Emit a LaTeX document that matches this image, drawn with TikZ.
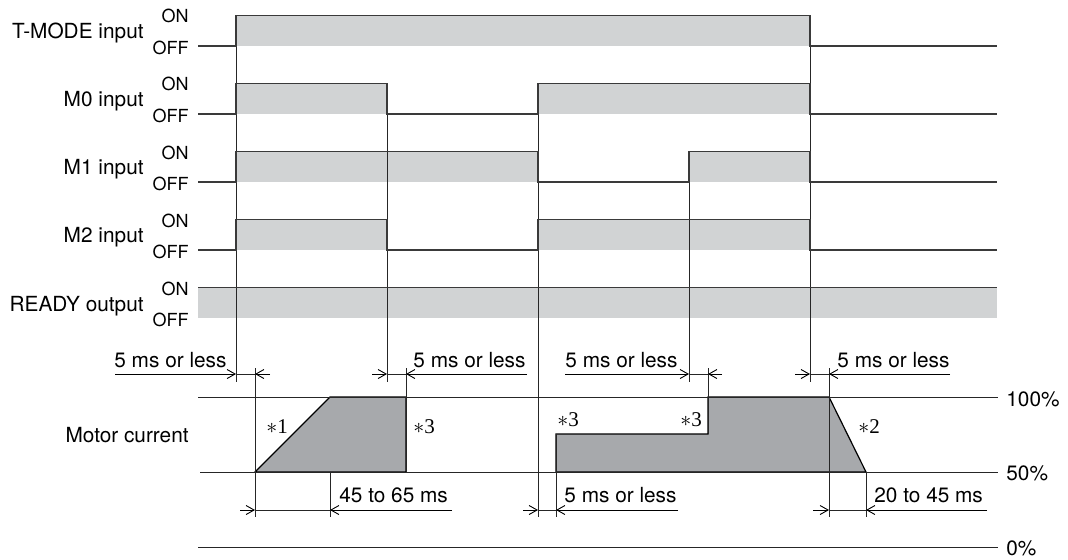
\documentclass[tikz,border=0pt]{standalone}
\usepackage{fontspec}
\setmainfont{TeX Gyre Heros}
\newfontfamily\starfont{Liberation Serif}
\usetikzlibrary{arrows.meta}
\definecolor{lightgrey}{HTML}{D1D3D4}
\definecolor{darkgrey}{HTML}{A7A9AC}
\definecolor{wave}{HTML}{3A3A3A}
\tikzset{
  sig/.style={line width=0.9pt, draw=wave},
  guide/.style={line width=0.45pt, draw=black!85},
  dimarrow/.style={line width=0.45pt, -{Straight Barb[length=4pt,width=4.5pt]}},
  lbl/.style={inner sep=0pt, font=\fontsize{10.4}{12}\selectfont},
  lvl/.style={inner sep=0pt, font=\fontsize{9}{10}\selectfont},
  star/.style={inner sep=0pt, font=\starfont\fontsize{10.5}{12}\selectfont},
}
\begin{document}
\begin{tikzpicture}[x=0.5pt,y=-0.5pt]
\useasboundingbox (0,0) rectangle (1068,559);

% grey ON bands
\fill[lightgrey] (236,15.5) rectangle (810,46);
\fill[lightgrey] (236,83.5) rectangle (387,114);
\fill[lightgrey] (538,83.5) rectangle (810,114);
\fill[lightgrey] (236,151.5) rectangle (538,182);
\fill[lightgrey] (689,151.5) rectangle (810,182);
\fill[lightgrey] (236,219.5) rectangle (387,250);
\fill[lightgrey] (538,219.5) rectangle (810,250);
\fill[lightgrey] (198,287.5) rectangle (997,318);

% motor current
\filldraw[fill=darkgrey, draw=black, line width=0.6pt] (255,472) -- (330,397) -- (406,397) -- (406,472) -- cycle;
\filldraw[fill=darkgrey, draw=black, line width=0.6pt] (556,472) -- (556,434) -- (708,434) -- (708,397) -- (829,397) -- (866,472) -- cycle;
\draw[guide] (198,397) -- (998,397);
\draw[guide] (200,472) -- (998,472);
\draw[guide] (198,547) -- (998,547);

% timing guides
\draw[guide] (236,15.5) -- (236,382);
\draw[guide] (387,83.5) -- (387,382);
\draw[guide] (538,83.5) -- (538,517);
\draw[guide] (689,151.5) -- (689,382);
\draw[guide] (810,15.5) -- (810,382);
\draw[guide] (255,368) -- (255,517);
\draw[guide] (406,368) -- (406,472);
\draw[guide] (708,368) -- (708,434);
\draw[guide] (829,368) -- (829,517);
\draw[guide] (330,472) -- (330,517);
\draw[guide] (556,434) -- (556,517);
\draw[guide] (866,472) -- (866,517);

% signals
\draw[sig] (198,46) -- (236,46) -- (236,15.5) -- (810,15.5) -- (810,46) -- (997,46);
\draw[sig] (198,114) -- (236,114) -- (236,83.5) -- (387,83.5) -- (387,114) -- (538,114) -- (538,83.5) -- (810,83.5) -- (810,114) -- (997,114);
\draw[sig] (198,182) -- (236,182) -- (236,151.5) -- (538,151.5) -- (538,182) -- (689,182) -- (689,151.5) -- (810,151.5) -- (810,182) -- (997,182);
\draw[sig] (198,250) -- (236,250) -- (236,219.5) -- (387,219.5) -- (387,250) -- (538,250) -- (538,219.5) -- (810,219.5) -- (810,250) -- (997,250);
\draw[sig] (198,287.5) -- (997,287.5);

% row labels
\node[lbl, anchor=base east] (tmode) at (144,38.3) {T-MODE input};
\node[lbl, anchor=base east] (mzero) at (144,106.5) {M0 input};
\node[lbl, anchor=base east] (mone) at (144,174.7) {M1 input};
\node[lbl, anchor=base east] (mtwo) at (144,242.8) {M2 input};
\node[lbl, anchor=base east] (ready) at (144,311) {READY output};
\node[lbl, anchor=base east] (motor) at (189,442.3) {Motor current};
\node[lvl, anchor=base east] (on0) at (189,22.7) {ON};
\node[lvl, anchor=base east] (off0) at (189,54) {OFF};
\node[lvl, anchor=base east] (on1) at (189,90.8) {ON};
\node[lvl, anchor=base east] (off1) at (189,122.1) {OFF};
\node[lvl, anchor=base east] (on2) at (189,159) {ON};
\node[lvl, anchor=base east] (off2) at (189,190.3) {OFF};
\node[lvl, anchor=base east] (on3) at (189,227.1) {ON};
\node[lvl, anchor=base east] (off3) at (189,258.4) {OFF};
\node[lvl, anchor=base east] (on4) at (189,295.3) {ON};
\node[lvl, anchor=base east] (off4) at (189,326.6) {OFF};
\node[lbl, anchor=base west] (pc100) at (1006,406) {100\%};
\node[lbl, anchor=base west] (pc50) at (1006,480.7) {50\%};
\node[lbl, anchor=base west] (pc0) at (1006,555) {0\%};

% notes
\node[star, anchor=base west] (n1) at (266,433.3) {$\ast$1};
\node[star, anchor=base west] (n3a) at (413,433.3) {$\ast$3};
\node[star, anchor=base west] (n3b) at (557,426.7) {$\ast$3};
\node[star, anchor=base west] (n3c) at (680,426.7) {$\ast$3};
\node[star, anchor=base west] (n2) at (858,433.3) {$\ast$2};

% delays
\coordinate (A1) at (236,374); \coordinate (B1) at (255,374);
\coordinate (A2) at (387,374); \coordinate (B2) at (406,374);
\coordinate (A3) at (689,374); \coordinate (B3) at (708,374);
\coordinate (A4) at (810,374); \coordinate (B4) at (829,374);
\coordinate (A5) at (255,510); \coordinate (B5) at (330,510);
\coordinate (A6) at (538,510); \coordinate (B6) at (556,510);
\coordinate (A7) at (829,510); \coordinate (B7) at (866,510);
\draw[dimarrow] (115,374) -- (A1);
\draw[guide] (A1) -- (B1);
\draw[dimarrow] (270,374) -- (B1);
\draw[dimarrow] (372,374) -- (A2);
\draw[guide] (A2) -- (B2);
\draw[dimarrow] (527,374) -- (B2);
\draw[dimarrow] (565,374) -- (A3);
\draw[guide] (A3) -- (B3);
\draw[dimarrow] (722,374) -- (B3);
\draw[dimarrow] (795,374) -- (A4);
\draw[guide] (A4) -- (B4);
\draw[dimarrow] (950,374) -- (B4);
\draw[dimarrow] (240,510) -- (A5);
\draw[guide] (A5) -- (B5);
\draw[dimarrow] (452,510) -- (B5);
\draw[dimarrow] (523,510) -- (A6);
\draw[guide] (A6) -- (B6);
\draw[dimarrow] (678,510) -- (B6);
\draw[dimarrow] (813,510) -- (A7);
\draw[guide] (A7) -- (B7);
\draw[dimarrow] (987,510) -- (B7);
\node[lbl, anchor=base west] (dly1) at (114,367) {5 ms or less};
\node[lbl, anchor=base west] (dly2) at (413,367) {5 ms or less};
\node[lbl, anchor=base west] (dly3) at (565,367) {5 ms or less};
\node[lbl, anchor=base west] (dly4) at (837,367) {5 ms or less};
\node[lbl, anchor=base west] (dly5) at (339,502.7) {45 to 65 ms};
\node[lbl, anchor=base west] (dly6) at (564,502.7) {5 ms or less};
\node[lbl, anchor=base west] (dly7) at (874,502.7) {20 to 45 ms};
\end{tikzpicture}
\end{document}
